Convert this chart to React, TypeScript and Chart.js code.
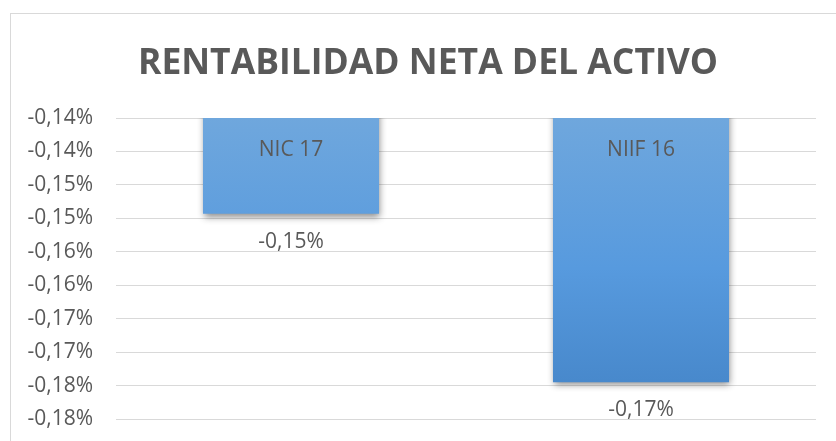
import React, { useEffect, useRef } from "react";
import { Chart, registerables } from "chart.js";

Chart.register(...registerables);

const categories = ["NIC 17", "NIIF 16"];
const values = [-0.1493, -0.1745];
const tickValues = [-0.18, -0.175, -0.17, -0.165, -0.16, -0.155, -0.15, -0.145, -0.14, -0.135];
const tickLabels = ["-0,18%", "-0,18%", "-0,17%", "-0,17%", "-0,16%", "-0,16%", "-0,15%", "-0,15%", "-0,14%", "-0,14%"];
const titleText = "RENTABILIDAD NETA DEL ACTIVO";

const TEXT = "#595959";
const FONT = "'Open Sans', 'DejaVu Sans', sans-serif";

function fmtPct(v: number): string {
  const s = (Math.round(Math.abs(v) * 100 + 1e-9) / 100).toFixed(2).replace(".", ",");
  return (v < 0 ? "-" : "") + s + "%";
}

export default function App() {
  const ref = useRef<HTMLCanvasElement | null>(null);

  useEffect(() => {
    const canvas = ref.current;
    if (!canvas) return;

    const shadowPlugin = {
      id: "barShadow",
      beforeDatasetsDraw(chart: any) {
        const ctx = chart.ctx;
        ctx.save();
        ctx.shadowColor = "rgba(0,0,0,0.45)";
        ctx.shadowBlur = 7;
        ctx.shadowOffsetX = 1;
        ctx.shadowOffsetY = 3;
      },
      afterDatasetsDraw(chart: any) {
        chart.ctx.restore();
      },
    };

    const labelPlugin = {
      id: "labels",
      afterDraw(chart: any) {
        const ctx = chart.ctx;
        const area = chart.chartArea;
        ctx.save();
        ctx.fillStyle = TEXT;
        ctx.font = `bold 35.5px ${FONT}`;
        ctx.textAlign = "center";
        ctx.textBaseline = "alphabetic";
        ctx.fillText(titleText, 428, 74);

        const meta = chart.getDatasetMeta(0);
        ctx.font = `21px ${FONT}`;
        ctx.textBaseline = "middle";
        meta.data.forEach((bar: any, i: number) => {
          const top = Math.max(Math.min(bar.y, bar.base), area.top);
          const bottom = Math.max(bar.y, bar.base);
          ctx.fillText(categories[i], bar.x, top + 32);
          ctx.fillText(fmtPct(values[i]), bar.x, bottom + 28);
        });
        ctx.restore();
      },
    };

    const chart = new Chart(canvas, {
      type: "bar",
      data: {
        labels: categories,
        datasets: [
          {
            data: values,
            backgroundColor: (c: any) => {
              const area = c.chart.chartArea;
              if (!area) return "#5b9bd5";
              const g = c.chart.ctx.createLinearGradient(0, area.top, 0, area.bottom);
              g.addColorStop(0, "#6fa7dd");
              g.addColorStop(0.5, "#579ade");
              g.addColorStop(1, "#4383c6");
              return g;
            },
            borderWidth: 0,
            categoryPercentage: 1,
            barPercentage: 0.503,
          },
        ],
      },
      options: {
        responsive: false,
        animation: false,
        layout: { padding: { top: 118, bottom: 22, left: 0, right: 20 } },
        plugins: {
          legend: { display: false },
          title: { display: false },
          tooltip: { enabled: false },
        },
        scales: {
          x: { display: false },
          y: {
            min: -0.18,
            max: -0.135,
            afterBuildTicks: (scale: any) => {
              scale.ticks = tickValues.map((v) => ({ value: v }));
            },
            afterFit: (scale: any) => {
              scale.width = 116;
            },
            border: { display: false },
            grid: {
              color: "#d9d9d9",
              lineWidth: 1,
              drawTicks: true,
              tickLength: 23,
              tickColor: "rgba(0,0,0,0)",
            },
            ticks: {
              color: TEXT,
              font: { family: FONT, size: 21 },
              padding: 0,
              callback: (_v: any, i: number) => tickLabels[i],
            },
          },
        },
      },
      plugins: [shadowPlugin, labelPlugin],
    });

    return () => chart.destroy();
  }, []);

  return (
    <div style={{ position: "fixed", left: 0, top: 0, width: 836, height: 441, overflow: "hidden", background: "#fff" }}>
      <div
        style={{
          position: "absolute",
          left: 10,
          top: 13,
          width: 836,
          height: 440,
          border: "1px solid #d9d9d9",
          boxSizing: "border-box",
        }}
      />
      <canvas ref={ref} width={836} height={441} style={{ position: "absolute", left: 0, top: 0 }} />
    </div>
  );
}
